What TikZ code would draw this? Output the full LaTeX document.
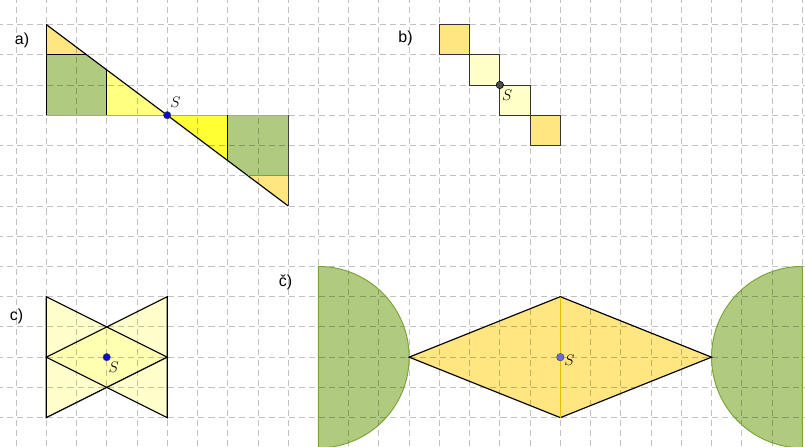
\documentclass[tikz,border=0pt]{standalone}
\usepackage{fontspec}
\newfontfamily\labelfont{Liberation Sans}
\usepackage{tikz}
\usetikzlibrary{positioning}
\definecolor{lightorange}{HTML}{FFE680}
\definecolor{leafgreen}{HTML}{B0CB7F}
\definecolor{leafline}{HTML}{7BA33A}
\definecolor{paleyellow}{HTML}{FFFF80}
\definecolor{brightyellow}{HTML}{FFFF33}
\definecolor{creamyellow}{HTML}{FFFF99}
\definecolor{goldline}{HTML}{E6BE00}
\definecolor{pointblue}{HTML}{0A0ACC}
\definecolor{softblue}{HTML}{6B6BE0}

\begin{document}
\begin{tikzpicture}[
  part/.style={font=\labelfont\fontsize{15}{17}\selectfont, inner sep=0pt},
  centre/.style={font=\fontsize{15}{17}\selectfont, inner sep=0pt},
  gridline/.style={black, opacity=0.24, line width=0.8pt,
                   dash pattern=on 0.2cm off 0.133cm, dash phase=0.1cm},
  edge/.style={line width=1.1pt, black},
  thinedge/.style={line width=0.8pt, black!80},
  dot/.style={circle, inner sep=0pt, minimum size=7pt, line width=0.5pt}
]
\useasboundingbox (-0.529,0.81) rectangle (26.09,-13.94);
\clip (-0.529,0.81) rectangle (26.09,-13.94);

% a) fills
\fill[lightorange] (1,0) -- (1,-1) -- (7/3,-1) -- cycle;
\fill[leafgreen] (1,-1) -- (7/3,-1) -- (3,-1.5) -- (3,-3) -- (1,-3) -- cycle;
\fill[paleyellow] (3,-1.5) -- (5,-3) -- (3,-3) -- cycle;
\fill[brightyellow] (5,-3) -- (7,-3) -- (7,-4.5) -- cycle;
\fill[leafgreen] (7,-3) -- (9,-3) -- (9,-5) -- (23/3,-5) -- (7,-4.5) -- cycle;
\fill[lightorange] (23/3,-5) -- (9,-5) -- (9,-6) -- cycle;

% b) fills
\fill[lightorange] (14,0) rectangle (15,-1);
\fill[creamyellow!55] (15,-1) rectangle (16,-2);
\fill[creamyellow!55] (16,-2) rectangle (17,-3);
\fill[lightorange] (17,-3) rectangle (18,-4);

% c) fills
\fill[creamyellow, fill opacity=0.5] (1,-9) -- (5,-11) -- (1,-13) -- cycle;
\fill[creamyellow, fill opacity=0.5] (5,-9) -- (1,-11) -- (5,-13) -- cycle;

% č) fills
\fill[leafgreen] (10,-8) arc (90:-90:3) -- cycle;
\fill[leafgreen] (26,-8) arc (90:270:3) -- cycle;
\fill[lightorange] (13,-11) -- (18,-9) -- (23,-11) -- (18,-13) -- cycle;

% grid
\foreach \i in {0,...,26}
  \draw[gridline] (\i,0.81) -- (\i,-13.94);
\foreach \j in {0,...,13}
  \draw[gridline] (-0.529,-\j) -- (26.09,-\j);

% a) outlines
\draw[line width=0.6pt, black!35] (1,-3) -- (9,-3);
\draw[edge] (1,0) -- (9,-6);
\draw[edge] (1,0) -- (1,-3);
\draw[edge] (1,-1) -- (7/3,-1);
\draw[edge] (3,-1.5) -- (3,-3);
\draw[edge] (7,-3) -- (7,-4.5);
\draw[edge, black!75] (9,-3) -- (9,-6);
\draw[line width=1pt, leafline] (23/3,-5) -- (9,-5);

% b) outlines
\draw[thinedge] (14,0) rectangle (15,-1);
\draw[thinedge] (15,-1) rectangle (16,-2);
\draw[thinedge] (16,-2) rectangle (17,-3);
\draw[thinedge] (17,-3) rectangle (18,-4);

% c) outlines
\draw[edge] (1,-9) -- (5,-11) -- (1,-13) -- cycle;
\draw[edge] (5,-9) -- (1,-11) -- (5,-13) -- cycle;

% č) outlines
\draw[line width=0.9pt, leafline] (10,-8) arc (90:-90:3) -- cycle;
\draw[line width=0.9pt, leafline] (26,-8) arc (90:270:3) -- cycle;
\draw[edge] (13,-11) -- (18,-9) -- (23,-11) -- (18,-13) -- cycle;
\draw[line width=1.1pt, goldline] (18,-9) -- (18,-13);

% centres
\node[dot, fill=pointblue, draw=black!70] (Sa) at (5,-3) {};
\node[dot, fill=black!70, draw=black] (Sb) at (16,-2) {};
\node[dot, fill=pointblue, draw=black!70] (Sc) at (3,-11) {};
\node[dot, fill=softblue, draw=black!70] (Sd) at (18,-11) {};
\node[centre] (nSa) at (5.27,-2.58) {$S$};
\node[centre] (nSb) at (16.24,-2.33) {$S$};
\node[centre] (nSc) at (3.23,-11.32) {$S$};
\node[centre] (nSd) at (18.3,-11.1) {$S$};

% labels
\node[part] (pa) at (0.2,-0.51) {a)};
\node[part] (pb) at (12.88,-0.46) {b)};
\node[part] (pc) at (0.02,-9.66) {c)};
\node[part] (pd) at (8.91,-8.53) {č)};
\end{tikzpicture}
\end{document}
